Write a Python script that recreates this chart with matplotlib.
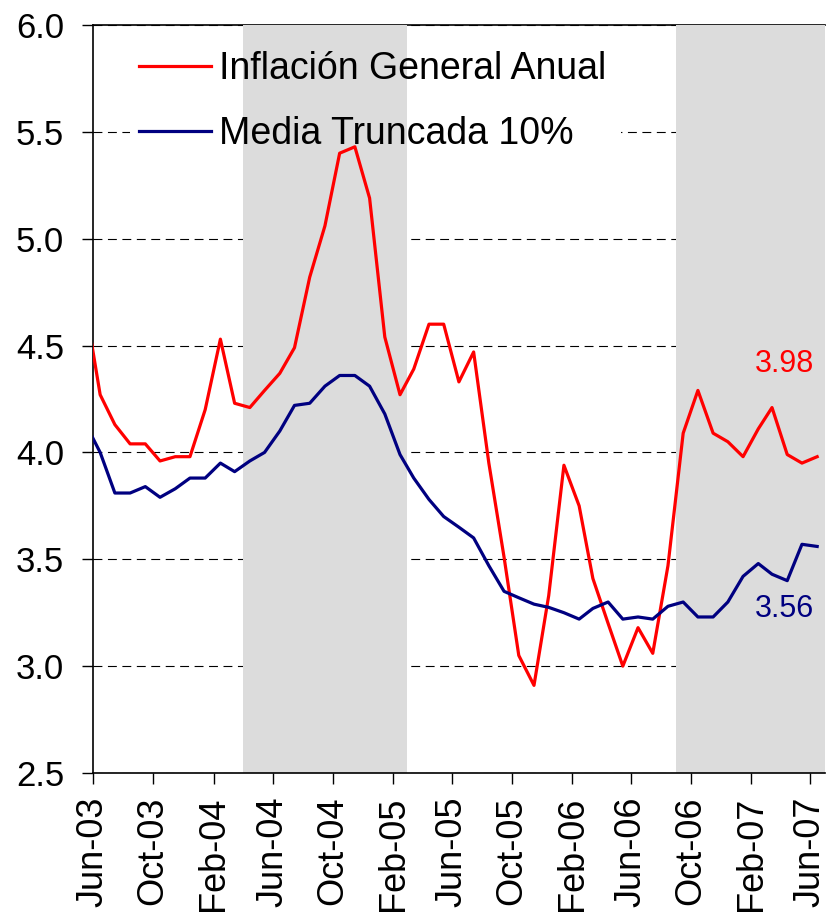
import matplotlib
matplotlib.use("Agg")
import matplotlib.pyplot as plt
from matplotlib.patches import Rectangle
import pandas as pd

plt.rcParams['font.family'] = ['Liberation Sans', 'DejaVu Sans']

# DATA (monthly, May-03 .. Jun-07; May-03 sits just left of the axis and is clipped)
first_month = '2003-05'
inflacion_general = [4.70, 4.27, 4.13, 4.04, 4.04, 3.96, 3.98, 3.98,
                     4.20, 4.53, 4.23, 4.21, 4.29, 4.37, 4.49, 4.82, 5.06, 5.40, 5.43, 5.19,
                     4.54, 4.27, 4.39, 4.60, 4.60, 4.33, 4.47, 3.95, 3.51, 3.05, 2.91, 3.33,
                     3.94, 3.75, 3.41, 3.20, 3.00, 3.18, 3.06, 3.47, 4.09, 4.29, 4.09, 4.05,
                     3.98, 4.11, 4.21, 3.99, 3.95, 3.98]
media_truncada = [4.14, 4.00, 3.81, 3.81, 3.84, 3.79, 3.83, 3.88,
                  3.88, 3.95, 3.91, 3.96, 4.00, 4.10, 4.22, 4.23, 4.31, 4.36, 4.36, 4.31,
                  4.18, 3.99, 3.88, 3.78, 3.70, 3.65, 3.60, 3.47, 3.35, 3.32, 3.29, 3.275,
                  3.25, 3.22, 3.27, 3.30, 3.22, 3.23, 3.22, 3.28, 3.30, 3.23, 3.23, 3.30,
                  3.42, 3.48, 3.43, 3.40, 3.57, 3.56]
labels = ['Inflación General Anual', 'Media Truncada 10%']
last_labels = ['3.98', '3.56']

# shaded periods (first month, last month)
shade_periods = [('2004-04', '2005-02'), ('2006-09', '2007-06')]

x_start, x_end = '2003-06-01', '2007-07-01'
tick_months = pd.date_range('2003-06-01', '2007-06-01', freq='4MS')

dates = pd.date_range(first_month + '-01', periods=len(inflacion_general), freq='MS') + pd.Timedelta(days=14)

fig = plt.figure(figsize=(8.27, 9.15), dpi=100)
ax = fig.add_axes([0.1128, 0.1552, 0.8848, 0.8175])

red = '#FF0000'
navy = '#000080'

for s, e in shade_periods:
    ax.axvspan(pd.Timestamp(s + '-01'), pd.Timestamp(e + '-01') + pd.offsets.MonthBegin(1),
               facecolor='#dcdcdc', edgecolor='none', zorder=1)

ax.plot(dates, inflacion_general, color=red, lw=2.3, label=labels[0], zorder=3)
ax.plot(dates, media_truncada, color=navy, lw=2.3, label=labels[1], zorder=3)

ax.set_xlim(pd.Timestamp(x_start), pd.Timestamp(x_end))
ax.set_ylim(2.5, 6.0)
ax.set_yticks([2.5, 3.0, 3.5, 4.0, 4.5, 5.0, 5.5, 6.0])
ax.set_yticklabels([f'{v:.1f}' for v in ax.get_yticks()])
ax.set_xticks(tick_months)
ax.set_xticklabels([d.strftime('%b-%y') for d in tick_months], rotation=90)

ax.tick_params(axis='both', length=8, width=1, direction='out', color='black')
ax.tick_params(axis='y', labelsize=25, pad=13)
ax.tick_params(axis='x', labelsize=26, pad=9)

# dashed grid below the shading, solid line on top
ax.set_axisbelow(True)
ax.yaxis.grid(True, linestyle=(0, (8, 5)), color='black', lw=0.8)
ax.axhline(6.0, color='black', lw=1.2, zorder=0.6, clip_on=False)

for side in ['top', 'right']:
    ax.spines[side].set_visible(False)
for side in ['left', 'bottom']:
    ax.spines[side].set_linewidth(1.2)

ax.annotate(last_labels[0], (dates[-1], inflacion_general[-1]), xytext=(-2, 67),
            textcoords='offset points', ha='right', va='center', fontsize=22, color=red)
ax.annotate(last_labels[1], (dates[-1], media_truncada[-1]), xytext=(-2, -45),
            textcoords='offset points', ha='right', va='center', fontsize=22, color=navy)

leg = ax.legend(loc='upper left', bbox_to_anchor=(0.042, 0.985), frameon=False, fontsize=27,
                handlelength=1.92, handletextpad=0.21, labelspacing=0.76, borderaxespad=0)

# white legend area hides the grid, but the shading still shows through
fig.canvas.draw()
bb = leg.get_window_extent().transformed(ax.transAxes.inverted())
ax.add_patch(Rectangle((bb.x0 + 0.008, bb.y0), bb.width - 0.008, bb.height,
                       transform=ax.transAxes, facecolor='white', edgecolor='none', zorder=0.8))

fig.savefig('out.png', dpi=100)
